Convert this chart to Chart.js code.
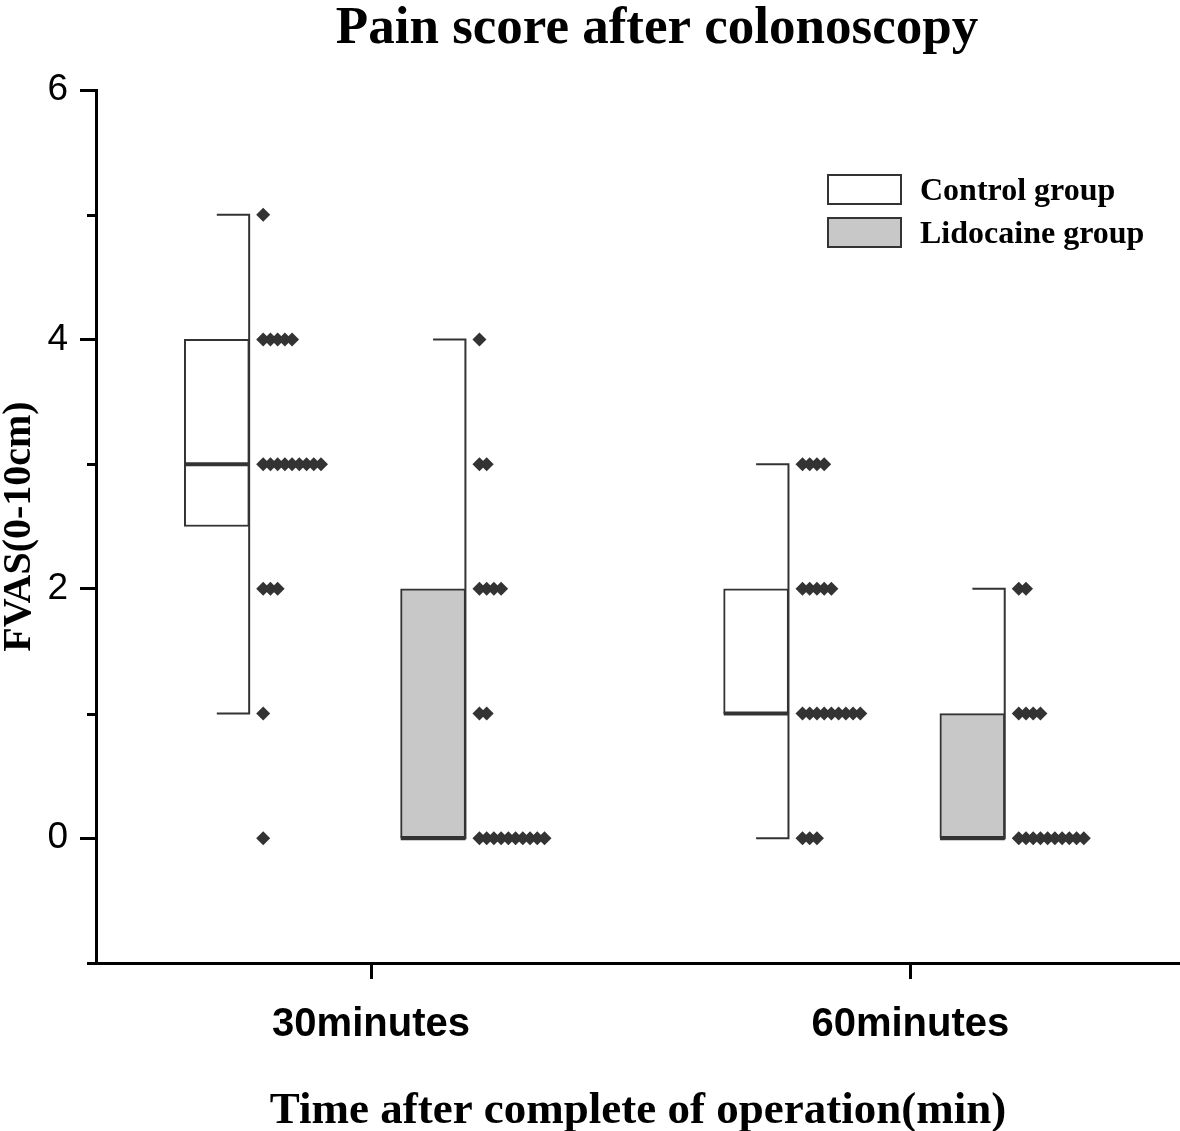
<!DOCTYPE html>
<html><head><meta charset="utf-8">
<script src="https://cdn.jsdelivr.net/npm/chart.js@4.4.1/dist/chart.umd.min.js"></script>
<style>html,body{margin:0;padding:0;background:#fff;}#wrap{position:relative;width:1180px;height:1131px;}</style>
</head><body><div id="wrap"><canvas id="c" width="1180" height="1131"></canvas></div>
<script>
// ---------- data ----------
const categories = ['30minutes', '60minutes'];
const groups = ['Control group', 'Lidocaine group'];
const scoreLevels = [0, 1, 2, 3, 4, 5];
// box statistics: [min, q1, median, q3, max]
const control30Box = [1, 2.5, 3, 4, 5];
const lidocaine30Box = [0, 0, 0, 2, 4];
const control60Box = [0, 1, 1, 2, 3];
const lidocaine60Box = [0, 0, 0, 1, 2];
// number of patients at each score in scoreLevels
const control30Counts = [1, 1, 3, 9, 5, 1];
const lidocaine30Counts = [10, 2, 4, 2, 1, 0];
const control60Counts = [3, 9, 5, 4, 0, 0];
const lidocaine60Counts = [10, 4, 2, 0, 0, 0];
const yTickLabels = [0, 2, 4, 6];
const yMinorTicks = [-1, 1, 3, 5];

// ---------- layout (x in axis units, one category = 1 unit) ----------
const catCenters = [0.5, 1.5];
const boxCenterOffset = [-0.286, 0.115];
const boxHalf = 0.060;
const dotGap = 0.026;
const dotStep = 0.0134;
const boxesByGroup = [[control30Box, control60Box], [lidocaine30Box, lidocaine60Box]];
const countsByGroup = [[control30Counts, control60Counts], [lidocaine30Counts, lidocaine60Counts]];
const fills = ['#ffffff', '#c8c8c8'];
const ink = '#333333';

const datasets = [];
groups.forEach((g, gi) => {
  datasets.push({
    type: 'bar', label: g, order: 3,
    data: categories.map((c, ci) => ({x: catCenters[ci] + boxCenterOffset[gi], y: [boxesByGroup[gi][ci][1], boxesByGroup[gi][ci][3]]})),
    backgroundColor: fills[gi], borderColor: ink, borderWidth: 2, borderSkipped: false,
    barThickness: 65, grouped: false
  });
});
groups.forEach((g, gi) => {
  categories.forEach((c, ci) => {
    const b = boxesByGroup[gi][ci];
    const cx = catCenters[ci] + boxCenterOffset[gi];
    const right = cx + boxHalf;
    datasets.push({
      type: 'line', label: g + ' whisker', order: 2,
      data: [{x: cx, y: b[4]}, {x: right, y: b[4]}, {x: right, y: b[0]}, {x: cx, y: b[0]}],
      borderColor: ink, borderWidth: 2, pointRadius: 0, fill: false, tension: 0
    });
    datasets.push({
      type: 'line', label: g + ' median', order: 1,
      data: [{x: cx - boxHalf, y: b[2]}, {x: right, y: b[2]}],
      borderColor: ink, borderWidth: 4, pointRadius: 0, fill: false
    });
    const pts = [];
    countsByGroup[gi][ci].forEach((n, k) => {
      for (let j = 0; j < n; j++) pts.push({x: right + dotGap + j * dotStep, y: scoreLevels[k]});
    });
    datasets.push({
      type: 'scatter', label: g + ' data', order: 0, data: pts,
      pointStyle: 'rectRot', pointRadius: 7, backgroundColor: ink, borderWidth: 0, showLine: false
    });
  });
});

const extras = {
  id: 'extras',
  afterDraw(chart) {
    const ctx = chart.ctx, ys = chart.scales.y, left = chart.chartArea.left;
    ctx.save();
    // minor ticks
    ctx.strokeStyle = '#000'; ctx.lineWidth = 3;
    yMinorTicks.forEach(v => {
      const y = Math.round(ys.getPixelForValue(v)) + 0.5;
      ctx.beginPath(); ctx.moveTo(left - 9, y); ctx.lineTo(left, y); ctx.stroke();
    });
    // title
    ctx.fillStyle = '#000';
    ctx.font = 'bold 53px "Liberation Serif"';
    ctx.textAlign = 'center'; ctx.textBaseline = 'alphabetic';
    ctx.fillText('Pain score after colonoscopy', 657, 43);
    // legend
    const legendY = [175, 218];
    ctx.textAlign = 'left';
    ctx.font = 'bold 32px "Liberation Serif"';
    groups.forEach((g, gi) => {
      ctx.fillStyle = fills[gi];
      ctx.fillRect(828, legendY[gi], 73, 29);
      ctx.strokeStyle = ink; ctx.lineWidth = 2;
      ctx.strokeRect(828, legendY[gi], 73, 29);
      ctx.fillStyle = '#000';
      ctx.fillText(g, 920, legendY[gi] + 25);
    });
    ctx.restore();
  }
};

new Chart(document.getElementById('c'), {
  type: 'bar',
  data: {datasets},
  plugins: [extras],
  options: {
    responsive: false, animation: false, devicePixelRatio: 1,
    layout: {autoPadding: false, padding: {top: 90, right: 0, bottom: 0, left: 0}},
    plugins: {legend: {display: false}, tooltip: {enabled: false}, title: {display: false}},
    scales: {
      x: {
        type: 'linear', min: -0.01, max: 2, offset: false,
        afterBuildTicks: s => { s.ticks = catCenters.map(v => ({value: v})); },
        ticks: {callback: (v, i) => categories[i], font: {family: 'Liberation Sans', size: 40, weight: 'bold'}, color: '#000', padding: 22, autoSkip: false, maxRotation: 0},
        grid: {drawOnChartArea: false, drawTicks: true, tickLength: 16, tickWidth: 3, tickColor: '#000', offset: false},
        border: {display: true, width: 3, color: '#000'},
        title: {display: true, text: 'Time after complete of operation(min)', font: {family: 'Liberation Serif', size: 45, weight: 'bold', lineHeight: 0.89}, color: '#000', padding: {top: 0, bottom: 0}},
        afterFit: s => { s.height = 168; }
      },
      y: {
        type: 'linear', min: -1, max: 6,
        ticks: {stepSize: 1, autoSkip: false, callback: v => yTickLabels.includes(v) ? String(v) : '', font: {family: 'Liberation Sans', size: 37}, color: '#000', padding: 12},
        grid: {drawOnChartArea: false, tickLength: 16, tickWidth: 3, tickColor: ctx => (ctx.tick && yTickLabels.includes(ctx.tick.value)) ? '#000' : 'rgba(0,0,0,0)'},
        border: {display: true, width: 3, color: '#000'},
        title: {display: true, text: 'FVAS(0-10cm)', font: {family: 'Liberation Serif', size: 40, weight: 'bold', lineHeight: 1}, color: '#000', padding: 0},
        afterFit: s => { s.width = 96; }
      }
    }
  }
});
</script></body></html>
